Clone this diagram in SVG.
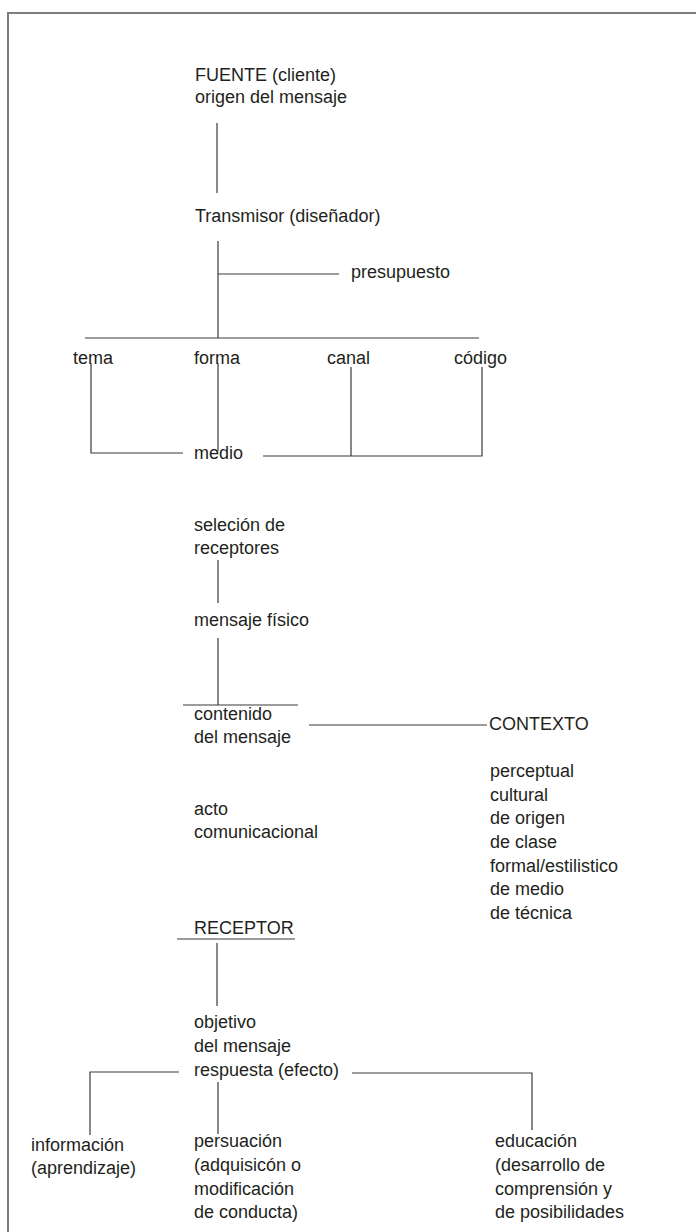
<svg xmlns="http://www.w3.org/2000/svg" width="696" height="1232" viewBox="0 0 696 1232">
<style>
text { font-family: "Liberation Sans", Arial, sans-serif; font-size: 18px; fill: #231f20; }
.ln { fill: none; stroke: #3a3a3a; stroke-width: 1.2; }
.frame { fill: none; stroke: #7d7d7d; stroke-width: 2; }
</style>
<rect width="696" height="1232" fill="#ffffff"/>
<path class="frame" d="M8,1232 V13 H696"/>
<g id="connectors">
<path class="ln" d="M217,123 V193"/>
<path class="ln" d="M218,241 V338"/>
<path class="ln" d="M218,274 H339"/>
<path class="ln" d="M85,338 H479"/>
<path class="ln" d="M91,363 V453 H183"/>
<path class="ln" d="M218,363 V451"/>
<path class="ln" d="M351,367 V456"/>
<path class="ln" d="M263,456 H482 V367"/>
<path class="ln" d="M218,560 V603"/>
<path class="ln" d="M218,638 V705"/>
<path class="ln" d="M183,705 H298"/>
<path class="ln" d="M309,725 H487"/>
<path class="ln" d="M177,939 H295"/>
<path class="ln" d="M217,943 V1006"/>
<path class="ln" d="M179,1072 H90 V1135"/>
<path class="ln" d="M218,1082 V1134"/>
<path class="ln" d="M352,1073 H532 V1130"/>
</g>
<g id="fuente"><text x="195" y="81">FUENTE (cliente)</text><text x="195" y="103">origen del mensaje</text></g>
<g id="transmisor"><text x="195" y="222">Transmisor (diseñador)</text></g>
<g id="presupuesto"><text x="351" y="278">presupuesto</text></g>
<g id="tema"><text x="73" y="364">tema</text></g>
<g id="forma"><text x="194" y="364">forma</text></g>
<g id="canal"><text x="327" y="364">canal</text></g>
<g id="codigo"><text x="454" y="364">código</text></g>
<g id="medio"><text x="194" y="459">medio</text></g>
<g id="seleccion"><text x="194" y="531">seleción de</text><text x="194" y="554">receptores</text></g>
<g id="mensaje-fisico"><text x="194" y="626">mensaje físico</text></g>
<g id="contenido"><text x="194" y="720">contenido</text><text x="194" y="743">del mensaje</text></g>
<g id="contexto"><text x="489" y="730">CONTEXTO</text></g>
<g id="contexto-lista">
<text x="490" y="777">perceptual</text>
<text x="490" y="801">cultural</text>
<text x="490" y="824">de origen</text>
<text x="490" y="848">de clase</text>
<text x="490" y="872">formal/estilistico</text>
<text x="490" y="895">de medio</text>
<text x="490" y="919">de técnica</text>
</g>
<g id="acto"><text x="194" y="815">acto</text><text x="194" y="838">comunicacional</text></g>
<g id="receptor"><text x="194" y="934">RECEPTOR</text></g>
<g id="objetivo"><text x="194" y="1028">objetivo</text><text x="194" y="1052">del mensaje</text><text x="194" y="1076">respuesta (efecto)</text></g>
<g id="informacion"><text x="31" y="1151">información</text><text x="31" y="1174">(aprendizaje)</text></g>
<g id="persuacion"><text x="194" y="1147">persuación</text><text x="194" y="1171">(adquisicón o</text><text x="194" y="1195">modificación</text><text x="194" y="1218">de conducta)</text></g>
<g id="educacion"><text x="495" y="1147">educación</text><text x="495" y="1171">(desarrollo de</text><text x="495" y="1195">comprensión y</text><text x="495" y="1218">de posibilidades</text></g>
</svg>
